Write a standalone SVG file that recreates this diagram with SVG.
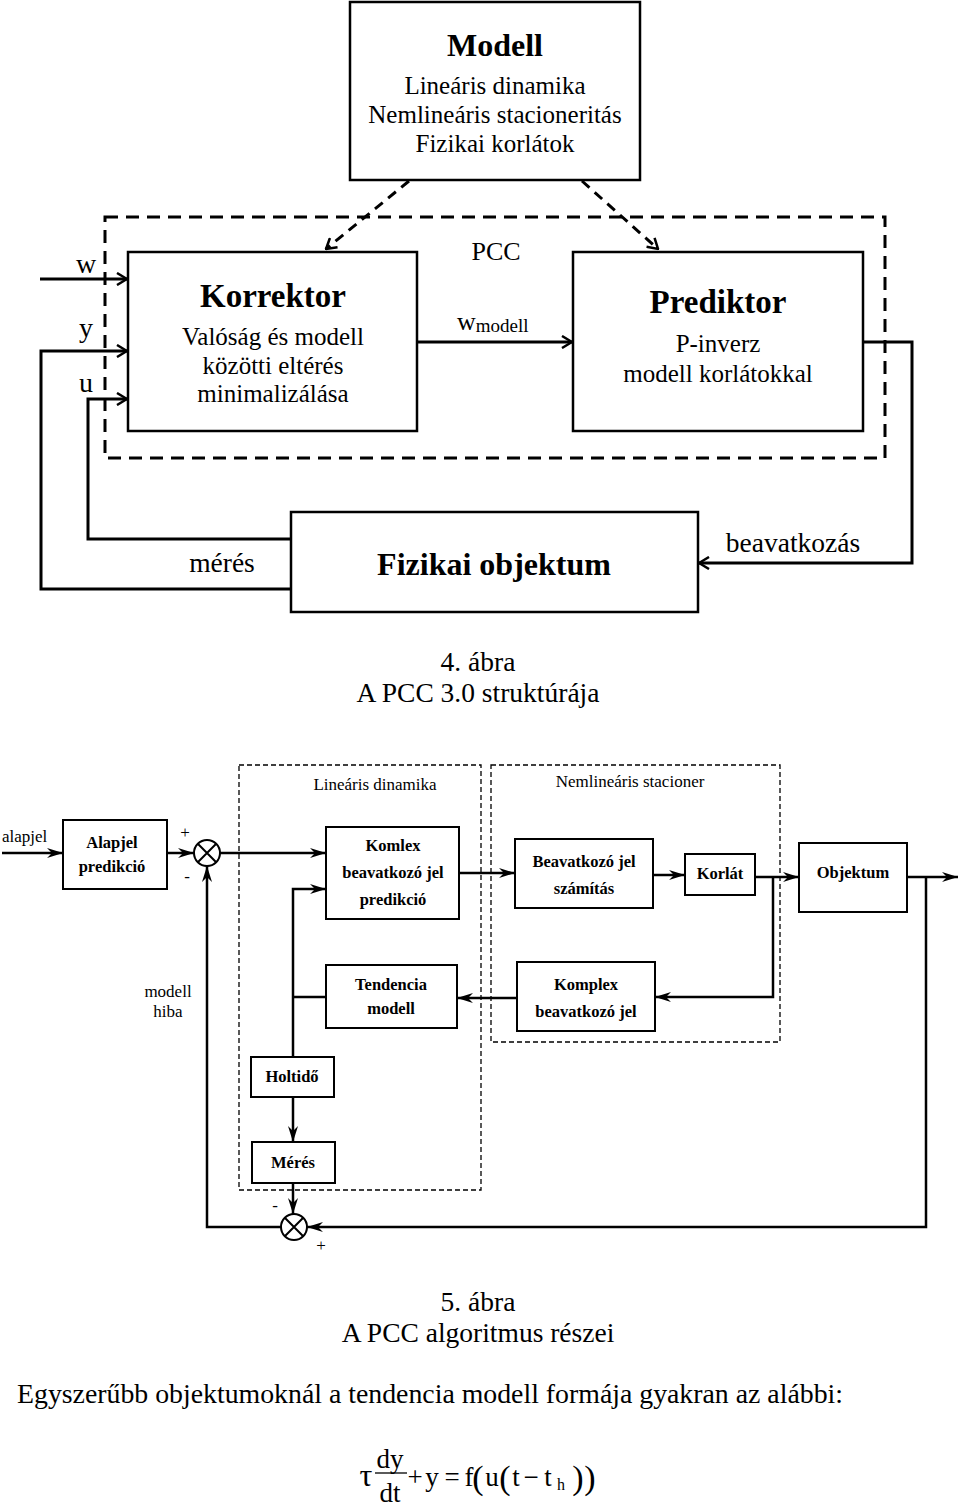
<svg xmlns="http://www.w3.org/2000/svg" width="960" height="1505" viewBox="0 0 960 1505">
<style>
text{font-family:"Liberation Serif","Times New Roman",serif;fill:#000}
.c{text-anchor:middle}
.b{font-weight:bold}
.box{fill:#fff;stroke:#000;stroke-width:2.5}
.box5{fill:#fff;stroke:#000;stroke-width:2}
.ln{fill:none;stroke:#000;stroke-width:3}
.ln5{fill:none;stroke:#000;stroke-width:2.5}
.dash{fill:none;stroke:#000;stroke-width:3;stroke-dasharray:13 8}
.dash5{fill:none;stroke:#000;stroke-width:1.3;stroke-dasharray:5 3}
.t25{font-size:25px}
.t27{font-size:27.5px}
.t17{font-size:17px}
.t16b{font-size:16.5px;font-weight:bold}
.par{font-size:34px}
</style>
<defs>
<marker id="chev" viewBox="0 0 12 14" refX="11" refY="7" markerWidth="12" markerHeight="14" markerUnits="userSpaceOnUse" orient="auto">
<path d="M1,1 L11,7 L1,13" fill="none" stroke="#000" stroke-width="2.5"/>
</marker>
<marker id="stl" viewBox="0 0 16 10" refX="16" refY="5" markerWidth="16" markerHeight="10" markerUnits="userSpaceOnUse" orient="auto">
<path d="M0,0 L16,5 L0,10 L5,5 z" fill="#000"/>
</marker>
</defs>

<!-- Figure 4 -->
<rect x="105" y="217" width="780" height="241" class="dash"/>
<text x="496" y="260" class="c" style="font-size:26px">PCC</text>

<g id="modell">
<rect x="350" y="2" width="290" height="178" class="box"/>
<text x="495" y="56" class="c b" style="font-size:32px">Modell</text>
<text x="495" y="94" class="c t25">Lineáris dinamika</text>
<text x="495" y="123" class="c t25">Nemlineáris stacioneritás</text>
<text x="495" y="152" class="c t25">Fizikai korlátok</text>
</g>

<g id="korrektor">
<rect x="128" y="252" width="289" height="179" class="box"/>
<text x="273" y="307" class="c b" style="font-size:33px">Korrektor</text>
<text x="273" y="345" class="c t25">Valóság és modell</text>
<text x="273" y="374" class="c t25">közötti eltérés</text>
<text x="273" y="402" class="c t25">minimalizálása</text>
</g>

<g id="prediktor">
<rect x="573" y="252" width="290" height="179" class="box"/>
<text x="718" y="313" class="c b" style="font-size:33px">Prediktor</text>
<text x="718" y="352" class="c t25">P-inverz</text>
<text x="718" y="382" class="c t25">modell korlátokkal</text>
</g>

<g id="fizikai">
<rect x="291" y="512" width="407" height="100" class="box"/>
<text x="494" y="575" class="c b" style="font-size:32px">Fizikai objektum</text>
</g>

<g id="connectors4">
<path d="M40,279 H127" class="ln" marker-end="url(#chev)"/>
<path d="M291,589 H41 V351 H127" class="ln" marker-end="url(#chev)"/>
<path d="M291,539 H88 V399 H127" class="ln" marker-end="url(#chev)"/>
<path d="M417,342 H572" class="ln" marker-end="url(#chev)"/>
<path d="M863,342 H912 V563 H699" class="ln" marker-end="url(#chev)"/>
<path d="M409,181 L326,249" class="ln" style="stroke-dasharray:10 7" marker-end="url(#chev)"/>
<path d="M582,181 L658,249" class="ln" style="stroke-dasharray:10 7" marker-end="url(#chev)"/>
</g>

<text x="86" y="273" class="c" style="font-size:28px">w</text>
<text x="86" y="337" class="c" style="font-size:28px">y</text>
<text x="86" y="392" class="c" style="font-size:28px">u</text>
<text x="457" y="330" style="font-size:26px">w<tspan style="font-size:19px" dy="2">modell</tspan></text>
<text x="222" y="572" class="c t27">mérés</text>
<text x="793" y="552" class="c t27">beavatkozás</text>

<text x="478" y="671" class="c t27">4. ábra</text>
<text x="478" y="702" class="c t27">A PCC 3.0 struktúrája</text>

<!-- Figure 5 -->
<rect x="239" y="765" width="242" height="425" class="dash5"/>
<rect x="491" y="765" width="289" height="277" class="dash5"/>
<text x="375" y="790" class="c t17">Lineáris dinamika</text>
<text x="630" y="787" class="c t17">Nemlineáris stacioner</text>

<g id="alapjel">
<rect x="63" y="820" width="104" height="69" class="box5"/>
<text x="112" y="848" class="c t16b">Alapjel</text>
<text x="112" y="872" class="c t16b">predikció</text>
</g>
<g id="sum1">
<circle cx="207" cy="853" r="13" fill="#fff" stroke="#000" stroke-width="2"/>
<path d="M197.8,843.8 L216.2,862.2 M216.2,843.8 L197.8,862.2" stroke="#000" stroke-width="2"/>
</g>
<g id="komlex">
<rect x="326" y="827" width="133" height="92" class="box5"/>
<text x="393" y="851" class="c t16b">Komlex</text>
<text x="393" y="878" class="c t16b">beavatkozó jel</text>
<text x="393" y="905" class="c t16b">predikció</text>
</g>
<g id="beavatkozo">
<rect x="515" y="839" width="138" height="69" class="box5"/>
<text x="584" y="867" class="c t16b">Beavatkozó jel</text>
<text x="584" y="894" class="c t16b">számítás</text>
</g>
<g id="korlat">
<rect x="685" y="854" width="70" height="41" class="box5"/>
<text x="720" y="879" class="c t16b">Korlát</text>
</g>
<g id="objektum">
<rect x="799" y="843" width="108" height="69" class="box5"/>
<text x="853" y="878" class="c t16b">Objektum</text>
</g>
<g id="tendencia">
<rect x="326" y="965" width="131" height="63" class="box5"/>
<text x="391" y="990" class="c t16b">Tendencia</text>
<text x="391" y="1014" class="c t16b">modell</text>
</g>
<g id="komplex">
<rect x="517" y="962" width="138" height="69" class="box5"/>
<text x="586" y="990" class="c t16b">Komplex</text>
<text x="586" y="1017" class="c t16b">beavatkozó jel</text>
</g>
<g id="holtido">
<rect x="251" y="1057" width="83" height="40" class="box5"/>
<text x="292" y="1082" class="c t16b">Holtidő</text>
</g>
<g id="meres">
<rect x="252" y="1142" width="83" height="41" class="box5"/>
<text x="293" y="1168" class="c t16b">Mérés</text>
</g>
<g id="sum2">
<circle cx="294" cy="1227" r="13" fill="#fff" stroke="#000" stroke-width="2"/>
<path d="M284.8,1217.8 L303.2,1236.2 M303.2,1217.8 L284.8,1236.2" stroke="#000" stroke-width="2"/>
</g>

<g id="connectors5">
<path d="M2,853 H63" class="ln5" marker-end="url(#stl)"/>
<path d="M167,853 H194" class="ln5" marker-end="url(#stl)"/>
<path d="M220,853 H326" class="ln5" marker-end="url(#stl)"/>
<path d="M459,873 H515" class="ln5" marker-end="url(#stl)"/>
<path d="M653,875 H685" class="ln5" marker-end="url(#stl)"/>
<path d="M755,877 H799" class="ln5" marker-end="url(#stl)"/>
<path d="M907,877 H958" class="ln5" marker-end="url(#stl)"/>
<path d="M773,877 V997 H655" class="ln5" marker-end="url(#stl)"/>
<path d="M517,998 H457" class="ln5" marker-end="url(#stl)"/>
<path d="M926,877 V1227 H307" class="ln5" marker-end="url(#stl)"/>
<path d="M281,1227 H207 V866" class="ln5" marker-end="url(#stl)"/>
<path d="M293,1057 V889 H326" class="ln5" marker-end="url(#stl)"/>
<path d="M293,997 H326" class="ln5"/>
<path d="M293,1097 V1142" class="ln5" marker-end="url(#stl)"/>
<path d="M293,1183 V1214" class="ln5" marker-end="url(#stl)"/>
</g>

<text x="2" y="842" class="t17">alapjel</text>
<text x="185" y="838" class="c" style="font-size:17px">+</text>
<text x="187" y="882" class="c" style="font-size:17px">-</text>
<text x="168" y="997" class="c t17">modell</text>
<text x="168" y="1017" class="c t17">hiba</text>
<text x="275" y="1211" class="c" style="font-size:17px">-</text>
<text x="321" y="1251" class="c" style="font-size:17px">+</text>

<text x="478" y="1311" class="c t27">5. ábra</text>
<text x="478" y="1342" class="c t27">A PCC algoritmus részei</text>
<text x="17" y="1403" style="font-size:28px" textLength="826" lengthAdjust="spacingAndGlyphs">Egyszerűbb objektumoknál a tendencia modell formája gyakran az alábbi:</text>

<g id="equation" style="font-size:27px">
<text x="366" y="1486" class="c" style="font-size:32px">τ</text>
<text x="390" y="1468" class="c">dy</text>
<line x1="375" y1="1473" x2="407" y2="1473" stroke="#000" stroke-width="1.3"/>
<text x="390" y="1502" class="c">dt</text>
<text x="415" y="1486" class="c">+</text>
<text x="432" y="1486" class="c">y</text>
<text x="452" y="1486" class="c">=</text>
<text x="469" y="1486" class="c">f</text>
<text x="478" y="1489" class="c par">(</text>
<text x="492" y="1486" class="c">u</text>
<text x="505" y="1489" class="c par">(</text>
<text x="516" y="1486" class="c">t</text>
<text x="531" y="1486" class="c">−</text>
<text x="548" y="1486" class="c">t</text>
<text x="561" y="1490" class="c" style="font-size:16px">h</text>
<text x="578" y="1489" class="c par">)</text>
<text x="590" y="1489" class="c par">)</text>
</g>
</svg>
